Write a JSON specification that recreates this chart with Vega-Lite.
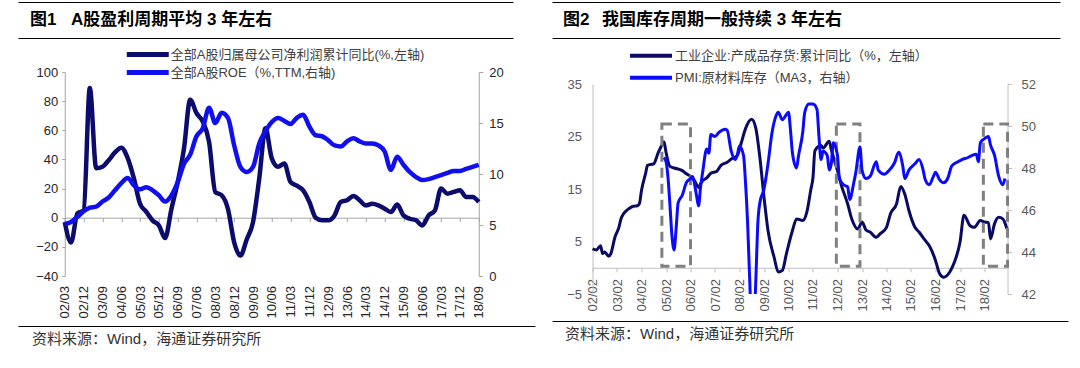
{
  "$schema": "https://vega.github.io/schema/vega-lite/v6.json",
  "background": "white",
  "padding": {"left": 18, "top": 2, "right": 4, "bottom": 5},
  "spacing": 2,
  "config": {
    "axis": {"grid": false, "labelFont": "Liberation Sans", "labelFontSize": 13},
    "view": {"stroke": null}
  },
  "resolve": {"scale": {"color": "independent"}, "legend": {"color": "independent"}},
  "hconcat": [
    {
      "spacing": 8,
      "center": true,
      "resolve": {"scale": {"color": "independent"}, "legend": {"color": "independent"}},
      "vconcat": [
        {
          "width": 532, "height": 36,
          "data": {"values": [{"fig": "图1", "title": "A股盈利周期平均 3 年左右"}]},
          "encoding": {"y": {"datum": 0.5, "scale": {"domain": [0, 1]}, "axis": null}},
          "layer": [
            {"mark": {"type": "text", "align": "left", "baseline": "middle", "dx": 12, "font": "Liberation Sans, Noto Sans CJK SC", "fontSize": 17, "fontWeight": "bold", "color": "#000000"},
             "encoding": {"text": {"field": "fig"}, "x": {"datum": 0, "title": null, "scale": {"domain": [0, 1], "range": [0, 495]},
               "axis": {"orient": "top", "labels": false, "ticks": false, "grid": false, "domainColor": "#000000", "domainWidth": 1}}}},
            {"mark": {"type": "text", "align": "left", "baseline": "middle", "dx": 53, "font": "Liberation Sans, Noto Sans CJK SC", "fontSize": 17, "fontWeight": "bold", "color": "#000000"},
             "encoding": {"text": {"field": "title"}, "x": {"datum": 0, "title": null,
               "axis": {"orient": "bottom", "labels": false, "ticks": false, "grid": false, "domainColor": "#000000", "domainWidth": 1}}}}
          ],
          "resolve": {"axis": {"x": "independent"}}
        },
        {
          "width": 414, "height": 204,
          "data": {"values": [
            {"date":"2002/03/01","profit":-3,"roe":5.1},
            {"date":"2002/06/01","profit":-17,"roe":5.3},
            {"date":"2002/09/01","profit":3,"roe":5.8},
            {"date":"2002/12/01","profit":5,"roe":6.35},
            {"date":"2003/03/01","profit":89,"roe":6.7},
            {"date":"2003/06/01","profit":34,"roe":6.8},
            {"date":"2003/09/01","profit":35,"roe":7.3},
            {"date":"2003/12/01","profit":39.5,"roe":7.7},
            {"date":"2004/03/01","profit":44.8,"roe":8.4},
            {"date":"2004/06/01","profit":48,"roe":9.1},
            {"date":"2004/09/01","profit":41,"roe":9.6},
            {"date":"2004/12/01","profit":27,"roe":8.9},
            {"date":"2005/03/01","profit":9.6,"roe":8.5},
            {"date":"2005/06/01","profit":4,"roe":8.7},
            {"date":"2005/09/01","profit":-2,"roe":8.4},
            {"date":"2005/12/01","profit":-5.3,"roe":7.9},
            {"date":"2006/03/01","profit":-14,"roe":7.3},
            {"date":"2006/06/01","profit":6,"roe":7.9},
            {"date":"2006/09/01","profit":24.5,"roe":9.2},
            {"date":"2006/12/01","profit":47.6,"roe":11},
            {"date":"2007/03/01","profit":81,"roe":11.9},
            {"date":"2007/06/01","profit":71.7,"roe":13.7},
            {"date":"2007/09/01","profit":66,"roe":14.5},
            {"date":"2007/12/01","profit":52,"roe":16.5},
            {"date":"2008/03/01","profit":17.6,"roe":15},
            {"date":"2008/06/01","profit":15.4,"roe":16},
            {"date":"2008/09/01","profit":6,"roe":15.5},
            {"date":"2008/12/01","profit":-17,"roe":12.8},
            {"date":"2009/03/01","profit":-26,"roe":10.7},
            {"date":"2009/06/01","profit":-15,"roe":10.2},
            {"date":"2009/09/01","profit":-3,"roe":10.7},
            {"date":"2009/12/01","profit":27,"roe":13},
            {"date":"2010/03/01","profit":61.4,"roe":14.2},
            {"date":"2010/06/01","profit":40.7,"roe":15.1},
            {"date":"2010/09/01","profit":35,"roe":15.5},
            {"date":"2010/12/01","profit":37.2,"roe":15.2},
            {"date":"2011/03/01","profit":24.5,"roe":14.9},
            {"date":"2011/06/01","profit":22,"roe":15.5},
            {"date":"2011/09/01","profit":18.8,"roe":15.8},
            {"date":"2011/12/01","profit":10.8,"roe":14.65},
            {"date":"2012/03/01","profit":0,"roe":13.8},
            {"date":"2012/06/01","profit":-1.8,"roe":13.7},
            {"date":"2012/09/01","profit":-1.8,"roe":13.3},
            {"date":"2012/12/01","profit":1.6,"roe":12.8},
            {"date":"2013/03/01","profit":10.8,"roe":12.7},
            {"date":"2013/06/01","profit":12,"roe":13.2},
            {"date":"2013/09/01","profit":14.9,"roe":13.5},
            {"date":"2013/12/01","profit":12,"roe":13.2},
            {"date":"2014/03/01","profit":8.5,"roe":13},
            {"date":"2014/06/01","profit":9.6,"roe":13},
            {"date":"2014/09/01","profit":8.5,"roe":12.8},
            {"date":"2014/12/01","profit":6.2,"roe":12.2},
            {"date":"2015/03/01","profit":3.9,"roe":10.4},
            {"date":"2015/06/01","profit":9,"roe":11.7},
            {"date":"2015/09/01","profit":1.6,"roe":10.9},
            {"date":"2015/12/01","profit":-0.7,"roe":10.2},
            {"date":"2016/03/01","profit":-1.8,"roe":9.7},
            {"date":"2016/06/01","profit":-5.3,"roe":9.4},
            {"date":"2016/09/01","profit":1.6,"roe":9.5},
            {"date":"2016/12/01","profit":5,"roe":9.7},
            {"date":"2017/03/01","profit":20,"roe":9.9},
            {"date":"2017/06/01","profit":16.5,"roe":10.1},
            {"date":"2017/09/01","profit":17.7,"roe":10.3},
            {"date":"2017/12/01","profit":18.8,"roe":10.3},
            {"date":"2018/03/01","profit":14.2,"roe":10.5},
            {"date":"2018/06/01","profit":14.2,"roe":10.7},
            {"date":"2018/09/01","profit":10.8,"roe":10.9}
          ]},
          "encoding": {
            "x": {
              "field": "date", "type": "temporal", "title": null,
              "scale": {"domain": [{"year": 2002, "month": 3, "date": 1}, {"year": 2018, "month": 9, "date": 1}], "nice": false},
              "axis": {
                "values": [
                  {"year": 2002, "month": 3, "date": 1}, {"year": 2002, "month": 12, "date": 1}, {"year": 2003, "month": 9, "date": 1},
                  {"year": 2004, "month": 6, "date": 1}, {"year": 2005, "month": 3, "date": 1}, {"year": 2005, "month": 12, "date": 1},
                  {"year": 2006, "month": 9, "date": 1}, {"year": 2007, "month": 6, "date": 1}, {"year": 2008, "month": 3, "date": 1},
                  {"year": 2008, "month": 12, "date": 1}, {"year": 2009, "month": 9, "date": 1}, {"year": 2010, "month": 6, "date": 1},
                  {"year": 2011, "month": 3, "date": 1}, {"year": 2011, "month": 12, "date": 1}, {"year": 2012, "month": 9, "date": 1},
                  {"year": 2013, "month": 6, "date": 1}, {"year": 2014, "month": 3, "date": 1}, {"year": 2014, "month": 12, "date": 1},
                  {"year": 2015, "month": 9, "date": 1}, {"year": 2016, "month": 6, "date": 1}, {"year": 2017, "month": 3, "date": 1},
                  {"year": 2017, "month": 12, "date": 1}, {"year": 2018, "month": 9, "date": 1}
                ],
                "format": "%y/%m", "labelAngle": -90, "offset": -58.3, "tickSize": 4, "labelPadding": 63.7,
                "labelOverlap": false, "labelFlush": false, "domainColor": "#a6a6a6", "tickColor": "#a6a6a6", "labelColor": "#262626"
              }
            }
          },
          "layer": [
            {
              "mark": {"type": "line", "strokeWidth": 4.5, "interpolate": "monotone", "strokeJoin": "round"},
              "encoding": {
                "y": {"field": "profit", "type": "quantitative", "title": null,
                  "scale": {"domain": [-40, 100], "nice": false},
                  "axis": {"orient": "left", "values": [-40, -20, 0, 20, 40, 60, 80, 100], "labelOverlap": false, "tickSize": 3, "labelPadding": 4, "domainColor": "#a6a6a6", "tickColor": "#a6a6a6", "labelColor": "#262626"}},
                "color": {"datum": "全部A股归属母公司净利润累计同比(%,左轴)",
                  "scale": {"domain": ["全部A股归属母公司净利润累计同比(%,左轴)", "全部A股ROE（%,TTM,右轴)"], "range": ["#0c0c6e", "#0f0ff0"]},
                  "legend": {"title": null, "orient": "none", "legendX": 75, "legendY": -25.5, "direction": "vertical", "symbolType": "M-4,0H4", "symbolSize": 110, "symbolStrokeWidth": 5,
                    "labelFont": "Liberation Sans, Noto Sans CJK SC", "labelFontSize": 13, "labelColor": "#404040", "labelOffset": 15, "labelLimit": 500, "rowPadding": -2, "padding": 0}}
              }
            },
            {
              "mark": {"type": "line", "strokeWidth": 4.5, "interpolate": "monotone", "strokeJoin": "round"},
              "encoding": {
                "y": {"field": "roe", "type": "quantitative", "title": null,
                  "scale": {"domain": [0, 20], "nice": false},
                  "axis": {"orient": "right", "values": [0, 5, 10, 15, 20], "labelOverlap": false, "tickSize": 4, "labelPadding": 6, "domainColor": "#a6a6a6", "tickColor": "#a6a6a6", "labelColor": "#262626"}},
                "color": {"datum": "全部A股ROE（%,TTM,右轴)"}
              }
            }
          ],
          "resolve": {"scale": {"y": "independent"}}
        },
        {
          "width": 532, "height": 26,
          "data": {"values": [{"source": "资料来源：Wind，海通证券研究所"}]},
          "mark": {"type": "text", "align": "left", "baseline": "middle", "dx": 14, "font": "Liberation Sans, Noto Sans CJK SC", "fontSize": 15, "color": "#333333"},
          "encoding": {
            "text": {"field": "source"},
            "x": {"datum": 0, "title": null, "scale": {"domain": [0, 1], "range": [0, 517]},
              "axis": {"orient": "top", "labels": false, "ticks": false, "grid": false, "domainColor": "#000000", "domainWidth": 1}},
            "y": {"datum": 0.5, "scale": {"domain": [0, 1]}, "axis": null}
          }
        }
      ]
    },
    {
      "spacing": 10,
      "center": true,
      "resolve": {"scale": {"color": "independent"}, "legend": {"color": "independent"}},
      "vconcat": [
        {
          "width": 524, "height": 36,
          "data": {"values": [{"fig": "图2", "title": "我国库存周期一般持续 3 年左右"}]},
          "encoding": {"y": {"datum": 0.5, "scale": {"domain": [0, 1]}, "axis": null}},
          "layer": [
            {"mark": {"type": "text", "align": "left", "baseline": "middle", "dx": 11, "font": "Liberation Sans, Noto Sans CJK SC", "fontSize": 17, "fontWeight": "bold", "color": "#000000"},
             "encoding": {"text": {"field": "fig"}, "x": {"datum": 0, "title": null, "scale": {"domain": [0, 1], "range": [0, 508]},
               "axis": {"orient": "top", "labels": false, "ticks": false, "grid": false, "domainColor": "#000000", "domainWidth": 1}}}},
            {"mark": {"type": "text", "align": "left", "baseline": "middle", "dx": 50, "font": "Liberation Sans, Noto Sans CJK SC", "fontSize": 17, "fontWeight": "bold", "color": "#000000"},
             "encoding": {"text": {"field": "title"}, "x": {"datum": 0, "title": null,
               "axis": {"orient": "bottom", "labels": false, "ticks": false, "grid": false, "domainColor": "#000000", "domainWidth": 1}}}}
          ],
          "resolve": {"axis": {"x": "independent"}}
        },
        {
          "width": 415, "height": 210,
          "encoding": {
            "x": {
              "field": "date", "type": "temporal", "title": null,
              "scale": {"domain": [{"year": 2002, "month": 2, "date": 1}, {"year": 2019, "month": 1, "date": 10}], "nice": false},
              "axis": {
                "values": [
                  {"year": 2002, "month": 2, "date": 1}, {"year": 2003, "month": 2, "date": 1}, {"year": 2004, "month": 2, "date": 1},
                  {"year": 2005, "month": 2, "date": 1}, {"year": 2006, "month": 2, "date": 1}, {"year": 2007, "month": 2, "date": 1},
                  {"year": 2008, "month": 2, "date": 1}, {"year": 2009, "month": 2, "date": 1}, {"year": 2010, "month": 2, "date": 1},
                  {"year": 2011, "month": 2, "date": 1}, {"year": 2012, "month": 2, "date": 1}, {"year": 2013, "month": 2, "date": 1},
                  {"year": 2014, "month": 2, "date": 1}, {"year": 2015, "month": 2, "date": 1}, {"year": 2016, "month": 2, "date": 1},
                  {"year": 2017, "month": 2, "date": 1}, {"year": 2018, "month": 2, "date": 1}
                ],
                "format": "%y/%m", "labelAngle": -90, "offset": -26.25, "tickSize": 4, "labelPadding": 6.7,
                "labelOverlap": false, "labelFlush": false, "domainColor": "#bfbfbf", "tickColor": "#bfbfbf", "labelColor": "#595959"
              }
            }
          },
          "layer": [
            {
              "layer": [
                {
                  "data": {"values": [
                    {"date":"2002/02/01","value":3.6},{"date":"2002/04/01","value":3.4},{"date":"2002/06/01","value":4.2},{"date":"2002/07/01","value":2.7},
                    {"date":"2002/08/01","value":3.0},{"date":"2002/10/01","value":2.2},{"date":"2002/11/01","value":2.7},{"date":"2003/01/01","value":5.8},
                    {"date":"2003/03/01","value":7.7},{"date":"2003/04/01","value":9.3},{"date":"2003/05/01","value":10.1},{"date":"2003/07/01","value":11.0},
                    {"date":"2003/08/01","value":11.3},{"date":"2003/10/01","value":11.7},{"date":"2003/12/01","value":11.8},{"date":"2004/01/01","value":12.2},
                    {"date":"2004/02/01","value":14.7},{"date":"2004/04/01","value":17.9},{"date":"2004/05/01","value":19.5},{"date":"2004/08/01","value":19.8},
                    {"date":"2004/10/01","value":21.7},{"date":"2004/12/01","value":23.4},{"date":"2005/01/01","value":24.0},{"date":"2005/02/01","value":22.0},
                    {"date":"2005/04/01","value":19.3},{"date":"2005/06/01","value":19.0},{"date":"2005/10/01","value":18.5},{"date":"2005/12/01","value":17.9},
                    {"date":"2006/02/01","value":17.4},{"date":"2006/04/01","value":16.6},{"date":"2006/06/01","value":15.3},{"date":"2006/07/01","value":16.0},
                    {"date":"2006/08/01","value":16.6},{"date":"2006/10/01","value":17.1},{"date":"2006/12/01","value":18.0},{"date":"2007/03/01","value":18.4},
                    {"date":"2007/05/01","value":19.5},{"date":"2007/08/01","value":20.1},{"date":"2007/10/01","value":20.7},{"date":"2008/01/01","value":21.4},
                    {"date":"2008/03/01","value":23.9},{"date":"2008/05/01","value":26.5},{"date":"2008/08/01","value":28.3},{"date":"2008/10/01","value":26.6},
                    {"date":"2008/12/01","value":21.0},{"date":"2009/02/01","value":13.4},{"date":"2009/04/01","value":7.1},{"date":"2009/07/01","value":2.0},
                    {"date":"2009/09/01","value":-0.8},{"date":"2009/11/01","value":-0.5},{"date":"2010/01/01","value":2.7},{"date":"2010/04/01","value":7.1},
                    {"date":"2010/06/01","value":9.3},{"date":"2010/09/01","value":9.0},{"date":"2010/11/01","value":10.6},{"date":"2011/01/01","value":15.0},
                    {"date":"2011/02/01","value":17.2},{"date":"2011/03/01","value":22.3},{"date":"2011/06/01","value":23.3},{"date":"2011/07/01","value":22.8},
                    {"date":"2011/10/01","value":24.1},{"date":"2011/11/01","value":22.5},{"date":"2012/02/01","value":18.5},{"date":"2012/04/01","value":15.6},
                    {"date":"2012/07/01","value":12.2},{"date":"2012/09/01","value":9.3},{"date":"2012/12/01","value":7.4},{"date":"2013/02/01","value":8.7},
                    {"date":"2013/04/01","value":7.2},{"date":"2013/06/01","value":6.8},{"date":"2013/09/01","value":5.8},{"date":"2013/11/01","value":6.5},
                    {"date":"2014/02/01","value":7.7},{"date":"2014/04/01","value":10.3},{"date":"2014/07/01","value":12.2},{"date":"2014/09/01","value":15.5},
                    {"date":"2014/11/01","value":14.0},{"date":"2015/01/01","value":10.9},{"date":"2015/04/01","value":7.7},{"date":"2015/06/01","value":6.8},
                    {"date":"2015/09/01","value":5.2},{"date":"2015/11/01","value":4.2},{"date":"2016/02/01","value":1.4},{"date":"2016/04/01","value":-1.1},
                    {"date":"2016/06/01","value":-1.8},{"date":"2016/09/01","value":-0.8},{"date":"2016/11/01","value":0.8},{"date":"2017/02/01","value":4.9},
                    {"date":"2017/04/01","value":10.0},{"date":"2017/07/01","value":8.0},{"date":"2017/09/01","value":7.7},{"date":"2017/12/01","value":9.0},
                    {"date":"2018/02/01","value":8.7},{"date":"2018/04/01","value":8.6},{"date":"2018/05/01","value":5.5},{"date":"2018/07/01","value":8.4},
                    {"date":"2018/09/01","value":9.6},{"date":"2018/11/01","value":9.3},{"date":"2019/01/01","value":7.4}
                  ]},
                  "mark": {"type": "line", "strokeWidth": 3, "interpolate": "monotone", "strokeJoin": "round"},
                  "encoding": {
                    "y": {"field": "value", "type": "quantitative", "title": null,
                      "scale": {"domain": [-5, 35], "nice": false},
                      "axis": {"orient": "left", "values": [-5, 0, 5, 10, 15, 20, 25, 30, 35], "labelOverlap": false, "ticks": false, "labelPadding": 11, "domainColor": "#bfbfbf", "labelColor": "#595959"}},
                    "color": {"datum": "工业企业:产成品存货:累计同比（%，左轴）",
                      "scale": {"domain": ["工业企业:产成品存货:累计同比（%，左轴）", "PMI:原材料库存（MA3，右轴）"], "range": ["#0a0a62", "#0a0aff"]},
                      "legend": {"title": null, "orient": "none", "legendX": 51, "legendY": -35.8, "direction": "vertical", "symbolType": "M-4,0H4", "symbolSize": 110, "symbolStrokeWidth": 4,
                        "labelFont": "Liberation Sans, Noto Sans CJK SC", "labelFontSize": 13, "labelColor": "#404040", "labelOffset": 16.5, "labelLimit": 500, "rowPadding": 5, "padding": 0}}
                  }
                },
                {
                  "data": {"values": [
                    {"date": "2004/12/01", "end": "2006/02/01"},
                    {"date": "2012/01/15", "end": "2013/01/01"},
                    {"date": "2018/01/15", "end": "2019/01/10"}
                  ], "format": {"parse": {"date": "date", "end": "date"}}},
                  "mark": {"type": "rect", "filled": false, "stroke": "#808080", "strokeWidth": 3, "strokeDash": [10, 6]},
                  "encoding": {
                    "x2": {"field": "end"},
                    "y": {"datum": 27.4, "title": null},
                    "y2": {"datum": 0.3}
                  }
                }
              ]
            },
            {
              "data": {"values": [
                {"date":"2005/01/01","value":48.5},{"date":"2005/02/01","value":48.3},{"date":"2005/03/01","value":47.6},{"date":"2005/04/01","value":46.2},
                {"date":"2005/05/01","value":44.75},{"date":"2005/06/01","value":44.1},{"date":"2005/07/01","value":45.1},{"date":"2005/08/01","value":46.35},
                {"date":"2005/10/01","value":46.7},{"date":"2005/12/01","value":47.3},{"date":"2006/02/01","value":47.5},{"date":"2006/03/01","value":47.6},
                {"date":"2006/05/01","value":46.7},{"date":"2006/06/01","value":46.2},{"date":"2006/07/01","value":47.1},{"date":"2006/08/01","value":47.8},
                {"date":"2006/10/01","value":48.9},{"date":"2006/11/01","value":48.7},{"date":"2006/12/01","value":49.6},{"date":"2007/02/01","value":49.5},
                {"date":"2007/04/01","value":49.7},{"date":"2007/07/01","value":49.85},{"date":"2007/08/01","value":49.8},{"date":"2007/10/01","value":48.8},
                {"date":"2007/12/01","value":48.4},{"date":"2008/01/01","value":48.65},{"date":"2008/02/01","value":49.05},{"date":"2008/04/01","value":48.6},
                {"date":"2008/05/01","value":47.3},{"date":"2008/06/01","value":45.4},{"date":"2008/07/01","value":42.8},{"date":"2008/08/01","value":40.5},
                {"date":"2008/09/01","value":40.5},{"date":"2008/10/01","value":42.6},{"date":"2008/11/01","value":45.4},{"date":"2008/12/01","value":46.35},
                {"date":"2009/02/01","value":47.0},{"date":"2009/04/01","value":48.2},{"date":"2009/06/01","value":49.7},{"date":"2009/08/01","value":50.5},
                {"date":"2009/09/01","value":50.65},{"date":"2009/11/01","value":50.3},{"date":"2010/01/01","value":50.55},{"date":"2010/02/01","value":50.65},
                {"date":"2010/03/01","value":49.85},{"date":"2010/04/01","value":48.7},{"date":"2010/06/01","value":48.0},{"date":"2010/07/01","value":48.6},
                {"date":"2010/09/01","value":49.7},{"date":"2010/10/01","value":50.65},{"date":"2010/12/01","value":51.05},{"date":"2011/02/01","value":51.05},
                {"date":"2011/04/01","value":50.8},{"date":"2011/05/01","value":49.5},{"date":"2011/06/01","value":48.4},{"date":"2011/07/01","value":48.8},
                {"date":"2011/09/01","value":48.6},{"date":"2011/10/01","value":47.9},{"date":"2011/11/01","value":48.2},{"date":"2011/12/01","value":49.2},
                {"date":"2012/02/01","value":48.6},{"date":"2012/03/01","value":47.5},{"date":"2012/05/01","value":47.2},{"date":"2012/07/01","value":47.1},
                {"date":"2012/08/01","value":46.5},{"date":"2012/10/01","value":47.3},{"date":"2012/11/01","value":47.8},{"date":"2013/01/01","value":49.0},
                {"date":"2013/02/01","value":47.9},{"date":"2013/04/01","value":47.5},{"date":"2013/06/01","value":47.6},{"date":"2013/09/01","value":48.3},
                {"date":"2013/10/01","value":47.9},{"date":"2014/01/01","value":47.7},{"date":"2014/03/01","value":47.85},{"date":"2014/06/01","value":48.25},
                {"date":"2014/08/01","value":48.75},{"date":"2014/10/01","value":48.1},{"date":"2014/11/01","value":47.5},{"date":"2015/01/01","value":47.9},
                {"date":"2015/04/01","value":48.2},{"date":"2015/06/01","value":48.4},{"date":"2015/08/01","value":47.9},{"date":"2015/09/01","value":47.45},
                {"date":"2015/11/01","value":47.2},{"date":"2016/01/01","value":47.6},{"date":"2016/02/01","value":47.8},{"date":"2016/04/01","value":47.45},
                {"date":"2016/06/01","value":47.3},{"date":"2016/08/01","value":47.5},{"date":"2016/10/01","value":48.1},{"date":"2017/01/01","value":48.3},
                {"date":"2017/03/01","value":48.4},{"date":"2017/06/01","value":48.5},{"date":"2017/08/01","value":48.6},{"date":"2017/10/01","value":48.65},
                {"date":"2017/11/01","value":48.3},{"date":"2017/12/01","value":49.2},{"date":"2018/02/01","value":49.4},{"date":"2018/04/01","value":49.5},
                {"date":"2018/05/01","value":49.1},{"date":"2018/07/01","value":48.6},{"date":"2018/09/01","value":47.6},{"date":"2018/11/01","value":47.2},
                {"date":"2018/12/01","value":47.5}
              ]},
              "mark": {"type": "line", "strokeWidth": 3, "interpolate": "monotone", "strokeJoin": "round", "clip": true},
              "encoding": {
                "y": {"field": "value", "type": "quantitative", "title": null,
                  "scale": {"domain": [42, 52], "nice": false},
                  "axis": {"orient": "right", "values": [42, 44, 46, 48, 50, 52], "labelOverlap": false, "tickSize": 4, "labelPadding": 9.5, "domainColor": "#bfbfbf", "tickColor": "#bfbfbf", "labelColor": "#595959"}},
                "color": {"datum": "PMI:原材料库存（MA3，右轴）"}
              }
            }
          ],
          "resolve": {"scale": {"y": "independent"}}
        },
        {
          "width": 524, "height": 26,
          "data": {"values": [{"source": "资料来源：Wind，海通证券研究所"}]},
          "mark": {"type": "text", "align": "left", "baseline": "middle", "dx": 13, "font": "Liberation Sans, Noto Sans CJK SC", "fontSize": 15, "color": "#333333"},
          "encoding": {
            "text": {"field": "source"},
            "x": {"datum": 0, "title": null, "scale": {"domain": [0, 1], "range": [0, 516]},
              "axis": {"orient": "top", "labels": false, "ticks": false, "grid": false, "domainColor": "#000000", "domainWidth": 1}},
            "y": {"datum": 0.5, "scale": {"domain": [0, 1]}, "axis": null}
          }
        }
      ]
    }
  ]
}
